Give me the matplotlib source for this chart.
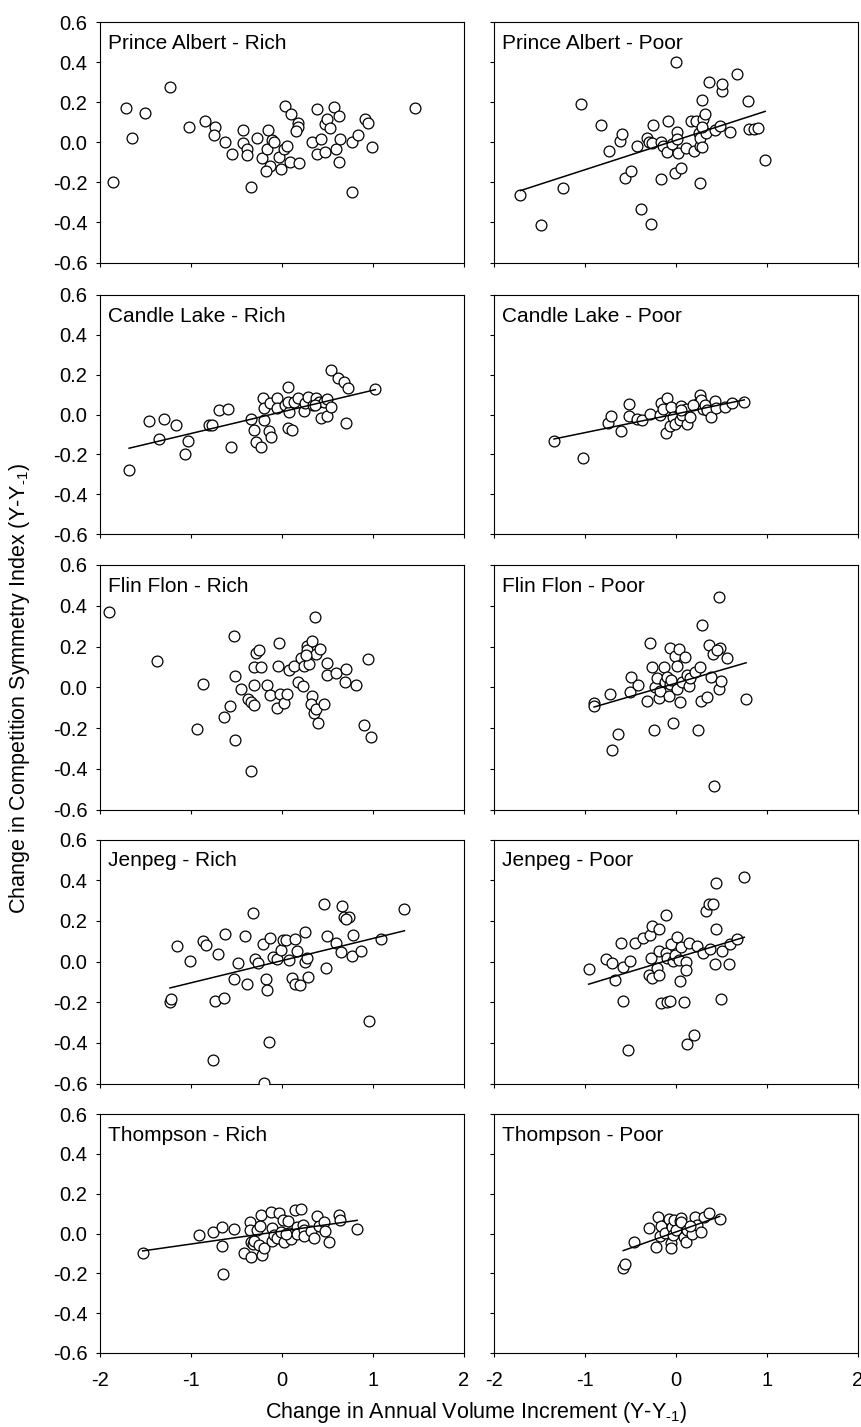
import matplotlib
matplotlib.use("Agg")
import matplotlib.pyplot as plt
import numpy as np

plt.rcParams['font.family'] = ['Liberation Sans', 'DejaVu Sans']
plt.rcParams['mathtext.fontset'] = 'custom'
plt.rcParams['mathtext.rm'] = 'Liberation Sans'
plt.rcParams['mathtext.it'] = 'Liberation Sans:italic'
plt.rcParams['axes.unicode_minus'] = False

# ---- data: change in annual volume increment (x) vs change in competition symmetry index (y)
pa_rich_x = [-1.86, -1.71, -1.65, -1.50, -1.23, -1.02, -0.84, -0.74, -0.75, -0.62, -0.55, -0.43, -0.43, -0.38,
             -0.38, -0.34, -0.27, -0.22, -0.15, -0.16, -0.13, -0.17, -0.11, -0.08, -0.03, -0.01, 0.03, 0.04,
             0.06, 0.10, 0.09, 0.18, 0.18, 0.16, 0.19, 0.33, 0.39, 0.39, 0.43, 0.48, 0.50, 0.48, 0.53, 0.58,
             0.63, 0.60, 0.64, 0.63, 0.77, 0.77, 0.84, 0.92, 0.95, 0.99, 1.47]
pa_rich_y = [-0.197, 0.173, 0.022, 0.148, 0.274, 0.076, 0.104, 0.077, 0.034, 0.0, -0.059, 0.059, -0.005, -0.034,
             -0.062, -0.222, 0.022, -0.081, 0.059, -0.034, -0.118, -0.143, 0.012, 0.003, -0.076, -0.134, -0.034,
             0.180, -0.017, 0.139, -0.101, 0.097, 0.076, 0.054, -0.103, 0.0, 0.165, -0.059, 0.017, 0.092, 0.114,
             -0.050, 0.071, 0.176, 0.131, -0.034, 0.017, -0.101, 0.003, -0.249, 0.034, 0.114, 0.097, -0.025, 0.171]

pa_poor_x = [-1.71, -1.48, -1.24, -1.04, -0.82, -0.74, -0.62, -0.59, -0.56, -0.49, -0.43, -0.38, -0.32, -0.30,
             -0.28, -0.25, -0.26, -0.16, -0.16, -0.14, -0.09, -0.10, -0.04, -0.01, 0.0, 0.01, 0.01, 0.02, 0.05,
             0.11, 0.17, 0.20, 0.22, 0.25, 0.26, 0.26, 0.26, 0.29, 0.29, 0.30, 0.32, 0.33, 0.36, 0.43, 0.48,
             0.50, 0.51, 0.59, 0.67, 0.79, 0.80, 0.86, 0.90, 0.98, 0.29]
pa_poor_y = [-0.264, -0.415, -0.227, 0.190, 0.087, -0.044, 0.008, 0.042, -0.180, -0.145, -0.017, -0.331, 0.022,
             0.0, -0.407, 0.084, -0.005, -0.185, 0.0, -0.017, 0.106, -0.050, -0.008, -0.151, 0.400, 0.050, 0.017,
             -0.055, -0.126, -0.029, 0.106, -0.042, 0.106, 0.045, -0.020, -0.202, 0.020, -0.025, 0.210, 0.114,
             0.141, 0.045, 0.303, 0.062, 0.079, 0.257, 0.289, 0.050, 0.339, 0.207, 0.064, 0.064, 0.071, -0.089,
             0.076]

cl_rich_x = [-1.68, -1.46, -1.35, -1.30, -1.16, -1.07, -1.03, -0.80, -0.77, -0.69, -0.59, -0.56, -0.34, -0.31,
             -0.28, -0.23, -0.21, -0.20, -0.19, -0.14, -0.12, -0.13, -0.05, -0.05, 0.04, 0.07, 0.08, 0.07, 0.11,
             0.07, 0.13, 0.18, 0.24, 0.26, 0.29, 0.34, 0.38, 0.41, 0.43, 0.47, 0.50, 0.50, 0.54, 0.54, 0.62,
             0.68, 0.73, 0.71, 1.03, 0.37]
cl_rich_y = [-0.277, -0.034, -0.123, -0.021, -0.055, -0.197, -0.132, -0.051, -0.051, 0.022, 0.026, -0.161, -0.021,
             -0.080, -0.140, -0.161, 0.082, 0.031, -0.029, -0.085, -0.111, 0.060, 0.085, 0.031, 0.048, 0.137,
             0.014, -0.067, -0.080, 0.062, 0.065, 0.085, 0.017, 0.060, 0.087, 0.048, 0.085, 0.065, -0.017, 0.065,
             -0.009, 0.079, 0.039, 0.224, 0.185, 0.164, 0.133, -0.043, 0.130, 0.048]

cl_poor_x = [-1.34, -1.02, -0.75, -0.71, -0.60, -0.52, -0.52, -0.43, -0.37, -0.29, -0.18, -0.16, -0.14, -0.11,
             -0.10, -0.07, -0.05, -0.03, -0.01, 0.04, 0.05, 0.07, 0.11, 0.12, 0.15, 0.23, 0.26, 0.28, 0.30, 0.32,
             0.34, 0.39, 0.43, 0.44, 0.54, 0.61, 0.75, 0.06, 0.19]
cl_poor_y = [-0.135, -0.217, -0.043, -0.009, -0.084, 0.051, -0.009, -0.024, -0.026, 0.002, 0.0, 0.060, 0.027,
             -0.092, 0.082, -0.058, 0.039, -0.015, -0.046, -0.026, 0.044, -0.003, 0.027, -0.046, -0.015, 0.053,
             0.099, 0.074, 0.027, 0.048, 0.022, -0.015, 0.068, 0.031, 0.039, 0.060, 0.065, 0.022, 0.048]

ff_rich_x = [-1.90, -1.37, -0.93, -0.87, -0.63, -0.57, -0.52, -0.51, -0.51, -0.45, -0.37, -0.34, -0.31, -0.34,
             -0.31, -0.30, -0.28, -0.25, -0.23, -0.16, -0.13, -0.05, -0.04, -0.03, -0.02, 0.03, 0.06, 0.08, 0.14,
             0.18, 0.21, 0.23, 0.25, 0.28, 0.28, 0.30, 0.33, 0.33, 0.32, 0.35, 0.37, 0.38, 0.38, 0.40, 0.42,
             0.46, 0.50, 0.50, 0.60, 0.70, 0.71, 0.82, 0.90, 0.95, 0.98, 0.27]
ff_rich_y = [0.367, 0.130, -0.203, 0.015, -0.146, -0.093, 0.252, 0.054, -0.261, -0.010, -0.056, -0.072, -0.085,
             -0.411, 0.010, 0.100, 0.166, 0.185, 0.100, 0.013, -0.039, -0.102, 0.105, 0.218, -0.034, -0.075,
             -0.034, 0.084, 0.103, 0.026, 0.146, 0.005, 0.105, 0.202, 0.182, 0.116, 0.228, -0.044, -0.084, -0.126,
             0.346, 0.162, -0.105, -0.174, 0.187, -0.080, 0.121, 0.059, 0.070, 0.026, 0.089, 0.010, -0.187, 0.138,
             -0.244, 0.157]

ff_poor_x = [-0.90, -0.90, -0.72, -0.70, -0.64, -0.51, -0.50, -0.42, -0.32, -0.29, -0.26, -0.24, -0.23, -0.21,
             -0.19, -0.18, -0.13, -0.12, -0.10, -0.08, -0.07, -0.07, -0.03, -0.01, 0.01, 0.01, 0.03, 0.04, 0.07,
             0.10, 0.12, 0.14, 0.15, 0.21, 0.24, 0.26, 0.28, 0.29, 0.34, 0.36, 0.38, 0.41, 0.42, 0.47, 0.47,
             0.48, 0.49, 0.56, 0.77, 0.45, -0.05]
ff_poor_y = [-0.077, -0.092, -0.034, -0.310, -0.231, -0.023, 0.051, 0.010, -0.067, 0.215, 0.097, -0.211, 0.002,
             0.043, -0.051, -0.020, 0.100, 0.026, 0.051, -0.044, 0.193, 0.018, -0.174, 0.154, 0.103, -0.007,
             0.187, -0.072, 0.026, 0.149, 0.059, 0.005, 0.046, 0.075, -0.211, 0.100, -0.067, 0.305, -0.048, 0.207,
             0.051, 0.161, -0.485, 0.444, -0.011, 0.195, 0.030, 0.146, -0.059, 0.182, 0.034]

jp_rich_x = [-1.23, -1.22, -1.15, -1.01, -0.87, -0.83, -0.70, -0.76, -0.74, -0.63, -0.62, -0.52, -0.48, -0.40,
             -0.38, -0.32, -0.29, -0.26, -0.21, -0.20, -0.17, -0.16, -0.14, -0.13, -0.10, -0.05, -0.01, 0.01,
             0.05, 0.08, 0.11, 0.15, 0.17, 0.15, 0.20, 0.26, 0.26, 0.28, 0.29, 0.47, 0.49, 0.50, 0.60, 0.65,
             0.66, 0.69, 0.74, 0.71, 0.77, 0.78, 0.87, 0.96, 1.09, 1.35]
jp_rich_y = [-0.200, -0.182, 0.075, 0.002, 0.103, 0.079, 0.038, -0.485, -0.192, -0.179, 0.136, -0.085, -0.007,
             0.125, -0.113, 0.239, 0.010, -0.007, 0.084, -0.597, -0.085, -0.141, -0.397, 0.116, 0.023, 0.013,
             0.059, 0.108, 0.108, 0.007, -0.080, 0.111, 0.054, -0.110, -0.116, 0.146, -0.003, 0.018, -0.077,
             0.285, -0.034, 0.125, 0.092, 0.048, 0.275, 0.218, 0.218, 0.207, 0.026, 0.130, 0.051, -0.293, 0.113,
             0.256]

jp_poor_x = [-0.96, -0.77, -0.70, -0.67, -0.60, -0.58, -0.58, -0.53, -0.51, -0.45, -0.36, -0.30, -0.29, -0.28,
             -0.26, -0.26, -0.21, -0.19, -0.19, -0.19, -0.16, -0.11, -0.11, -0.10, -0.10, -0.07, -0.06, -0.03,
             -0.01, 0.01, 0.03, 0.04, 0.05, 0.09, 0.11, 0.11, 0.12, 0.14, 0.20, 0.23, 0.30, 0.33, 0.36, 0.37,
             0.41, 0.43, 0.44, 0.44, 0.49, 0.51, 0.58, 0.59, 0.67, 0.75]
jp_poor_y = [-0.036, 0.010, -0.007, -0.092, 0.092, -0.028, -0.192, -0.436, 0.002, 0.089, 0.116, -0.064, 0.130,
             0.015, 0.174, -0.080, -0.031, -0.064, 0.162, 0.054, -0.203, 0.231, 0.043, 0.018, -0.198, -0.192,
             0.084, 0.002, 0.031, 0.121, 0.005, -0.097, 0.070, -0.198, -0.003, -0.043, -0.405, 0.089, -0.362,
             0.075, 0.043, 0.248, 0.284, 0.062, 0.284, -0.011, 0.387, 0.162, -0.184, 0.051, -0.011, 0.084, 0.111,
             0.416]

th_rich_x = [-1.53, -0.91, -0.76, -0.66, -0.66, -0.65, -0.53, -0.41, -0.35, -0.35, -0.34, -0.34, -0.32, -0.31,
             -0.27, -0.25, -0.23, -0.22, -0.24, -0.20, -0.12, -0.11, -0.11, -0.08, -0.05, -0.03, 0.01, -0.01,
             0.03, 0.07, 0.08, 0.10, 0.15, 0.17, 0.17, 0.21, 0.23, 0.24, 0.25, 0.32, 0.35, 0.39, 0.41, 0.46,
             0.48, 0.52, 0.63, 0.64, 0.83, 0.05]
th_rich_y = [-0.097, -0.010, 0.007, 0.034, -0.063, -0.202, 0.022, -0.100, 0.058, 0.019, -0.041, -0.117, -0.054,
             -0.037, 0.019, -0.058, 0.092, -0.108, 0.036, -0.075, 0.107, 0.027, -0.037, -0.007, -0.024, 0.103,
             0.069, 0.010, -0.041, 0.061, 0.002, -0.027, 0.120, 0.031, -0.003, 0.125, 0.044, 0.019, -0.015,
             0.014, -0.024, 0.086, 0.036, 0.056, 0.014, -0.044, 0.092, 0.066, 0.022, -0.003]

th_poor_x = [-0.58, -0.56, -0.46, -0.30, -0.22, -0.20, -0.18, -0.16, -0.12, -0.08, -0.06, -0.05, -0.04, -0.03,
             -0.02, 0.0, 0.04, 0.05, 0.06, 0.09, 0.11, 0.12, 0.18, 0.21, 0.23, 0.28, 0.31, 0.36, 0.48, 0.15]
th_poor_y = [-0.171, -0.151, -0.041, 0.027, -0.066, 0.081, -0.012, 0.036, 0.002, 0.075, -0.049, -0.075, 0.031,
             -0.010, 0.069, 0.019, 0.061, 0.078, 0.058, -0.020, -0.041, 0.019, -0.002, 0.083, 0.044, 0.010, 0.083,
             0.103, 0.075, 0.036]

titles = ["Prince Albert - Rich", "Prince Albert - Poor",
          "Candle Lake - Rich", "Candle Lake - Poor",
          "Flin Flon - Rich", "Flin Flon - Poor",
          "Jenpeg - Rich", "Jenpeg - Poor",
          "Thompson - Rich", "Thompson - Poor"]

# fitted regression lines (slope, intercept); None where no significant trend
fit_slope = [None, 0.147, 0.1085, 0.094, None, 0.130, 0.109, 0.135, 0.065, 0.162]
fit_intercept = [None, 0.010, 0.013, 0.003, None, 0.020, 0.004, 0.018, 0.012, 0.008]

x_ticks = [-2, -1, 0, 1, 2]
y_ticks = [-0.6, -0.4, -0.2, 0.0, 0.2, 0.4, 0.6]

panels = [(pa_rich_x, pa_rich_y), (pa_poor_x, pa_poor_y),
          (cl_rich_x, cl_rich_y), (cl_poor_x, cl_poor_y),
          (ff_rich_x, ff_rich_y), (ff_poor_x, ff_poor_y),
          (jp_rich_x, jp_rich_y), (jp_poor_x, jp_poor_y),
          (th_rich_x, th_rich_y), (th_poor_x, th_poor_y)]

W, H = 862, 1427
fig = plt.figure(figsize=(W / 100, H / 100), dpi=100)

col_left = [100, 494]
col_width = [363.5, 364]
row_top = [22, 295, 565, 839.5, 1114]
row_bottom = [262.5, 534, 809.5, 1083.5, 1353]

FS_TICK = 14.5
FS_TITLE = 15
FS_LABEL = 15.5

for i, (xs, ys) in enumerate(panels):
    r, c = divmod(i, 2)
    rect = [col_left[c] / W, 1 - row_bottom[r] / H,
            col_width[c] / W, (row_bottom[r] - row_top[r]) / H]
    ax = fig.add_axes(rect)
    ax.set_xlim(-2, 2)
    ax.set_ylim(-0.6, 0.6)
    ax.set_xticks(x_ticks)
    ax.set_yticks(y_ticks)
    ax.set_yticklabels([f"{v:.1f}" for v in y_ticks])
    ax.set_xticklabels([str(v) for v in x_ticks])
    ax.tick_params(direction='out', length=3.0, width=0.8, labelsize=FS_TICK, color='black')
    ax.tick_params(axis='x', pad=10)
    ax.tick_params(axis='y', pad=6)
    if c == 1:
        ax.tick_params(axis='y', labelleft=False)
    if r < 4:
        ax.tick_params(axis='x', labelbottom=False)
    for sp in ax.spines.values():
        sp.set_linewidth(0.8)
        sp.set_color('black')

    ax.plot(xs, ys, linestyle='none', marker='o', markersize=7.8,
            markerfacecolor='white', markeredgecolor='black', markeredgewidth=0.9, zorder=3)

    if fit_slope[i] is not None:
        xr = np.array([min(xs), max(xs)])
        ax.plot(xr, fit_intercept[i] + fit_slope[i] * xr, color='black', linewidth=1.1, zorder=4)

    ax.annotate(titles[i], xy=(0, 1), xycoords='axes fraction', xytext=(8, -12),
                textcoords='offset pixels', ha='left', va='top', fontsize=FS_TITLE)

sub = "$_{\\mathregular{\u20101}}$"
fig.text(20 / W, 1 - 689 / H, "Change in Competition Symmetry Index (Y-Y" + sub + ")",
         rotation=90, ha='center', va='center', fontsize=FS_LABEL)
fig.text(476 / W, 1 - 1418 / H, "Change in Annual Volume Increment (Y-Y" + sub + ")",
         ha='center', va='baseline', fontsize=FS_LABEL)

fig.savefig("out.png", dpi=100)
